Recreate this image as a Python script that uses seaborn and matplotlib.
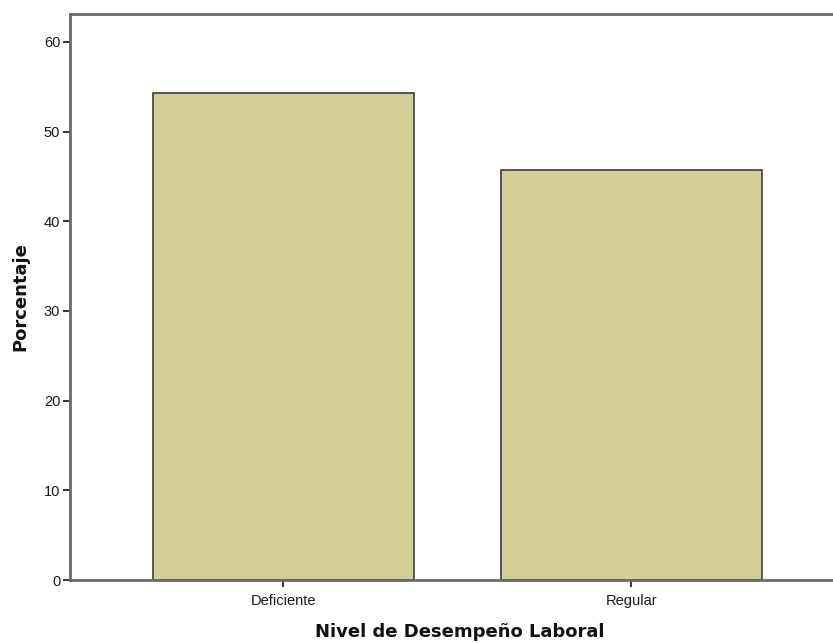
import matplotlib
matplotlib.use("Agg")
import matplotlib.pyplot as plt
import seaborn as sns
import pandas as pd

categories = ["Deficiente", "Regular"]
percentages = [54.3, 45.7]
x_label = "Nivel de Desempeño Laboral"
y_label = "Porcentaje"
y_ticks = [0, 10, 20, 30, 40, 50, 60]

sns.set_style("white")
plt.rcParams['font.family'] = ['Liberation Sans', 'DejaVu Sans']

df = pd.DataFrame({"cat": categories, "pct": percentages})

fig = plt.figure(figsize=(8.33, 6.43), dpi=100)
ax = fig.add_axes([70/833, 1 - 580/643, 1 - 70/833 + 0.01, (580 - 14)/643])

sns.barplot(data=df, x="cat", y="pct", color="#D3CE98", width=0.75,
            edgecolor="#3c3c3c", linewidth=1.2, saturation=1, ax=ax)

ax.set_xlim(-0.613, 1.573 + 0.03)
ax.set_ylim(0, 63.1)
ax.set_yticks(y_ticks)
ax.set_yticklabels([str(t) for t in y_ticks])

for s in ["left", "bottom", "top"]:
    ax.spines[s].set_color("#6a6a6a")
    ax.spines[s].set_linewidth(2)
ax.spines["right"].set_visible(False)

ax.tick_params(axis="both", direction="out", length=5, width=1.5, color="#3c3c3c",
               labelsize=10.5, labelcolor="#1a1a1a", left=True, bottom=True, pad=2)
ax.tick_params(axis="x", pad=5)
ax.set_xlabel(x_label, fontsize=13, fontweight="bold", family=["DejaVu Sans"],
              color="#111111", va="center")
ax.set_ylabel(y_label, fontsize=13, fontweight="bold", family=["DejaVu Sans"],
              color="#111111", va="center")
ax.xaxis.set_label_coords(460 / 833, 1 - 632 / 643, transform=fig.transFigure)
ax.yaxis.set_label_coords(20 / 833, 1 - 297 / 643, transform=fig.transFigure)

fig.savefig("out.png", dpi=100)
